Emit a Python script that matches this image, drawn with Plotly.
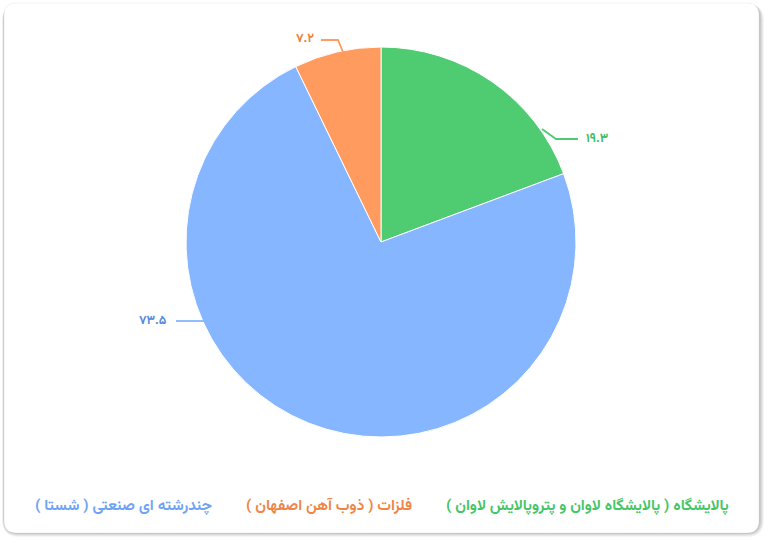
import plotly.graph_objects as go

W, H = 768, 542

# ---- data ----
categories = [
    "پالایشگاه ( پالایشگاه لاوان و پتروپالایش لاوان )",
    "چندرشته ای صنعتی ( شستا )",
    "فلزات ( ذوب آهن اصفهان )",
]
values = [19.3, 73.5, 7.2]

# ---- style ----
slice_colors = ["#4fcb71", "#86b6ff", "#ff9b5e"]
label_colors = ["#3dbd5f", "#5589e3", "#ec7f3b"]
legend_colors = ["#45c566", "#6fa3f5", "#f08546"]

FONT = "Vazirmatn, 'Noto Sans Arabic', 'DejaVu Sans'"
RLM = "\u200f"


def fa_digits(v):
    s = f"{v}"
    return s.translate(str.maketrans("0123456789", "۰۱۲۳۴۵۶۷۸۹"))


def px(x, y):
    return x / W, 1 - y / H


# pie geometry (pixels)
CX, CY, R = 381, 242, 195

# label layout (pixels): leader line points and text anchor
label_layout = [
    dict(pts=[(542, 129), (556, 139), (578, 139)], text=(584, 139), anchor="left"),
    dict(pts=[(204, 321), (176, 321)], text=(169, 321), anchor="right"),
    dict(pts=[(343, 52), (338, 40), (321, 40)], text=(316, 39), anchor="right"),
]
legend_layout = [(731, 506), (214, 506), (414, 506)]

fig = go.Figure()
fig.add_trace(go.Pie(
    labels=categories,
    values=values,
    sort=False,
    direction="clockwise",
    rotation=0,
    textinfo="none",
    hoverinfo="label+value",
    marker=dict(colors=slice_colors, line=dict(color="white", width=1)),
    domain=dict(x=[(CX - R) / W, (CX + R) / W],
                y=[(H - CY - R) / H, (H - CY + R) / H]),
    showlegend=False,
))

shapes = []


def rrect(x0, y0, x1, y1, r):
    a0, b0 = px(x0, y0)
    a1, b1 = px(x1, y1)
    rx, ry = r / W, r / H
    return (f"M {a0+rx},{b0} L {a1-rx},{b0} Q {a1},{b0} {a1},{b0-ry} "
            f"L {a1},{b1+ry} Q {a1},{b1} {a1-rx},{b1} "
            f"L {a0+rx},{b1} Q {a0},{b1} {a0},{b1+ry} "
            f"L {a0},{b0-ry} Q {a0},{b0} {a0+rx},{b0} Z")


# card shadow
for i, op in enumerate([0.04, 0.05, 0.06, 0.07]):
    d = 4 - i
    shapes.append(dict(type="path", xref="paper", yref="paper", layer="below",
                       path=rrect(4 - d * 0.5, 4, 760 + d, 533 + d, 13 + d),
                       fillcolor=f"rgba(0,0,0,{op})", line=dict(width=0)))
shapes.append(dict(type="path", xref="paper", yref="paper", layer="below",
                   path=rrect(4, 3, 759, 533, 12),
                   fillcolor="white", line=dict(color="rgba(0,0,0,0.05)", width=1)))

annotations = []
for i, lay in enumerate(label_layout):
    pts = lay["pts"]
    path = "M " + " L ".join(f"{px(x, y)[0]},{px(x, y)[1]}" for x, y in pts)
    shapes.append(dict(type="path", xref="paper", yref="paper", path=path,
                       line=dict(color=slice_colors[i], width=1.8)))
    tx, ty = px(*lay["text"])
    annotations.append(dict(
        x=tx, y=ty, xref="paper", yref="paper", showarrow=False,
        xanchor=lay["anchor"], yanchor="middle",
        text=f"<b>{fa_digits(values[i])}</b>",
        font=dict(family=FONT, size=12.5, color=label_colors[i], weight=800),
    ))

for i, (lx, ly) in enumerate(legend_layout):
    tx, ty = px(lx, ly)
    annotations.append(dict(
        x=tx, y=ty, xref="paper", yref="paper", showarrow=False,
        xanchor="right", yanchor="middle",
        text=f"{RLM}{categories[i]}{RLM}",
        font=dict(family=FONT, size=15.3, color=legend_colors[i], weight=700),
    ))

fig.update_layout(
    width=W, height=H,
    margin=dict(l=0, r=0, t=0, b=0),
    paper_bgcolor="white",
    plot_bgcolor="white",
    shapes=shapes,
    annotations=annotations,
    showlegend=False,
)

fig.write_html("out.html", config={"displayModeBar": False},
               post_script="document.body.style.margin='0';")
